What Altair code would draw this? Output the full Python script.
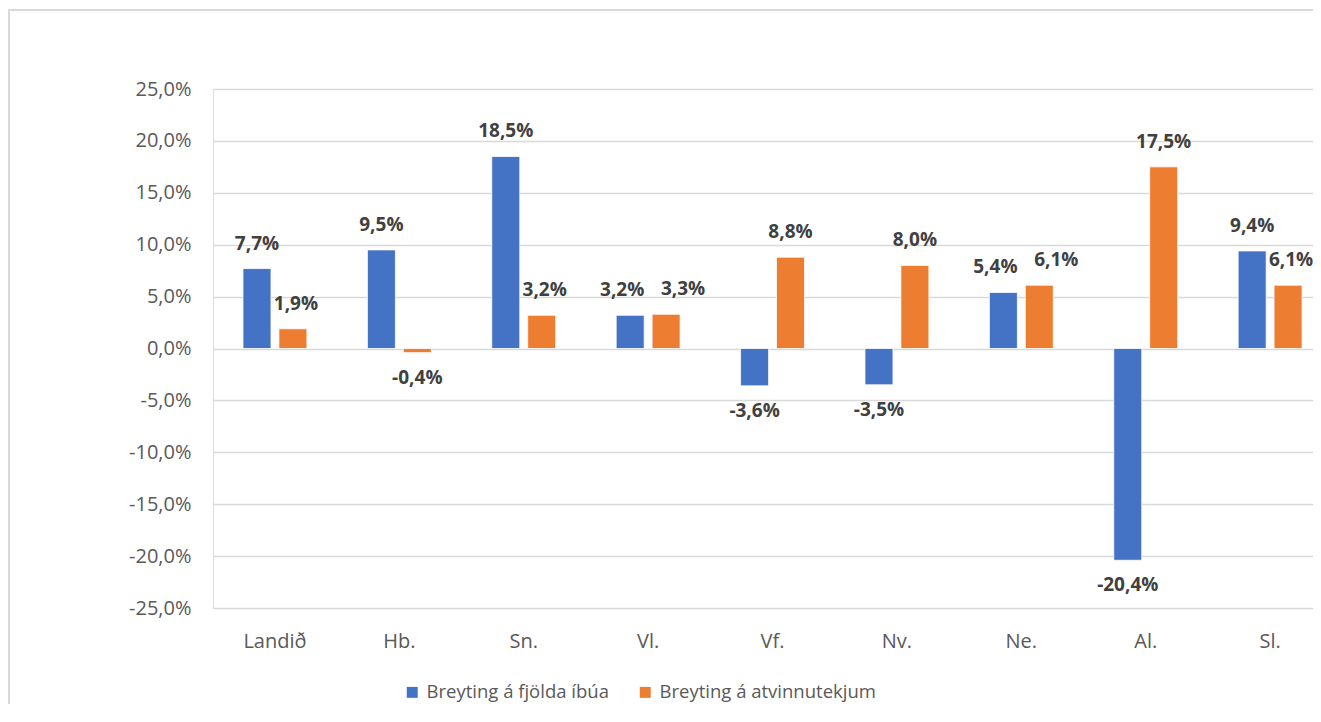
import altair as alt
import pandas as pd

categories = ["Landið", "Hb.", "Sn.", "Vl.", "Vf.", "Nv.", "Ne.", "Al.", "Sl."]
series_names = ["Breyting á fjölda íbúa", "Breyting á atvinnutekjum"]
ibuar = [7.7, 9.5, 18.5, 3.2, -3.6, -3.5, 5.4, -20.4, 9.4]
tekjur = [1.9, -0.4, 3.2, 3.3, 8.8, 8.0, 6.1, 17.5, 6.1]
colors = ["#4472C4", "#ED7D31"]
y_ticks = [-25, -20, -15, -10, -5, 0, 5, 10, 15, 20, 25]

rows = []
for i, c in enumerate(categories):
    rows.append({"cat": c, "series": series_names[0], "value": ibuar[i]})
    rows.append({"cat": c, "series": series_names[1], "value": tekjur[i]})
df = pd.DataFrame(rows)

FONT = "Open Sans"
FMT = "replace(replace(format({v}, '.1f'), '.', ','), '\u2212', '-') + '%'"
BLUE = series_names[0]

x_scale = alt.Scale(paddingInner=0.486, paddingOuter=0.1644, align=0.733)
x_enc = alt.X("cat:N", sort=categories, title=None, scale=x_scale,
              axis=alt.Axis(labelAngle=0, ticks=False, domain=False, labelPadding=23,
                            labelFontSize=20, labelColor="#595959", labelFont=FONT, grid=False))
xoff = alt.XOffset("series:N", sort=series_names, scale=alt.Scale(paddingInner=0.22))
y_enc = alt.Y("value:Q", title=None,
              scale=alt.Scale(domain=[-25, 25], nice=False),
              axis=alt.Axis(values=y_ticks, ticks=False, domain=False, labelPadding=22,
                            labelFontSize=20, labelColor="#595959", labelFont=FONT,
                            gridColor="#d9d9d9", gridWidth=1.5,
                            labelExpr=FMT.format(v="datum.value")))
color_enc = alt.Color("series:N", sort=series_names, title=None,
                      scale=alt.Scale(domain=series_names, range=colors),
                      legend=alt.Legend(orient="none", direction="horizontal",
                                        legendX=190, legendY=594,
                                        symbolType="square", symbolSize=120,
                                        symbolStrokeWidth=0, labelLimit=0,
                                        labelFontSize=18.5, labelColor="#595959", labelFont=FONT,
                                        columnPadding=27, labelOffset=5))

base = alt.Chart(df)

bars = base.mark_bar(stroke="white", strokeWidth=0.8).encode(
    x=x_enc, xOffset=xoff, y=y_enc, color=color_enc)

# label placement rule (like the spreadsheet): separate labels of near-equal bars,
# and push an orange label off a taller blue neighbour
lab = base.transform_calculate(
    label=FMT.format(v="datum.value"),
    bv=f"datum.series == '{BLUE}' ? datum.value : null",
    ov=f"datum.series == '{BLUE}' ? null : datum.value",
).transform_joinaggregate(
    B="max(bv)", O="max(ov)", groupby=["cat"]
).transform_calculate(
    close="datum.B >= 0 && datum.O >= 0 && abs(datum.B - datum.O) < 2",
).transform_calculate(
    shift=(f"datum.close ? (datum.series == '{BLUE}' ? 'L' : 'R2') : "
           f"(datum.series != '{BLUE}' && datum.O >= 0 && datum.B > datum.O ? 'R1' : 'N')")
)

shift_dx = {"N": 0, "L": -8, "R1": 3, "R2": 17}

text_layers = []
for key, dxv in shift_dx.items():
    for sign, dyv in (("datum.value >= 0", -25), ("datum.value < 0", 25)):
        text_layers.append(
            lab.transform_filter(f"datum.shift == '{key}' && {sign}").mark_text(
                baseline="middle", dx=dxv, dy=dyv, fontSize=19, fontWeight="bold",
                color="#404040", font=FONT
            ).encode(x=alt.X("cat:N", sort=categories), xOffset=xoff,
                     y="value:Q", text="label:N")
        )

one = pd.DataFrame({"a": [0]})
border_top = alt.Chart(one).mark_rule(color="#d9d9d9", strokeWidth=2).encode(
    x=alt.value(-205), x2=alt.value(1200), y=alt.value(-79))
border_left = alt.Chart(one).mark_rule(color="#d9d9d9", strokeWidth=2).encode(
    x=alt.value(-204), y=alt.value(-80), y2=alt.value(700))

chart = alt.layer(border_top, border_left, bars, *text_layers).properties(
    width=1100, height=519,
    autosize=alt.AutoSizeParams(type="none"),
    padding={"left": 205, "top": 81, "right": 0, "bottom": 96},
).configure_view(stroke=None).configure(background="white")

chart.save("out.html", embed_options={"renderer": "svg", "actions": False})
